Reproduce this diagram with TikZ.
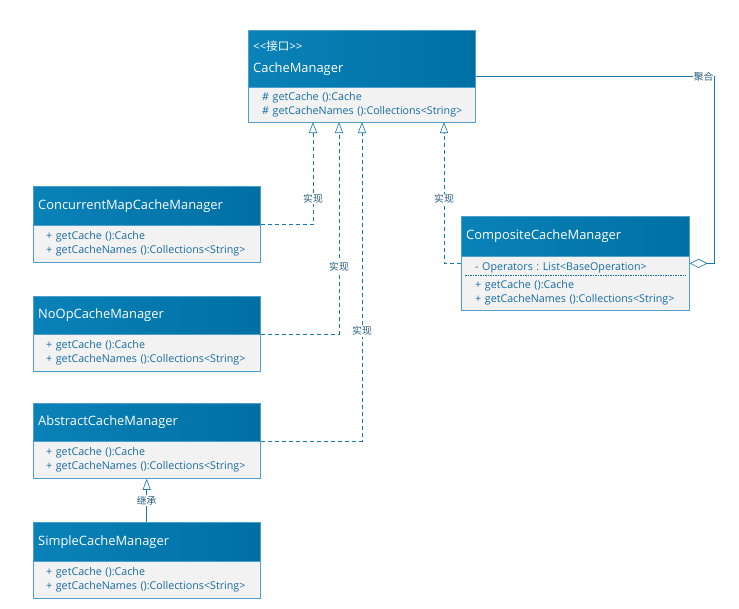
\documentclass[tikz,border=0pt]{standalone}
\usepackage{fontspec}
\setmainfont{Open Sans}
\newfontfamily\cjk{Noto Sans CJK SC}
\usepackage{tikz}
\usetikzlibrary{arrows.meta,fit,calc}
\definecolor{headlight}{RGB}{10,130,184}
\definecolor{headdark}{RGB}{0,112,164}
\definecolor{bodygray}{RGB}{242,242,242}
\definecolor{edgeblue}{RGB}{80,158,204}
\definecolor{textblue}{RGB}{22,108,160}
\definecolor{lineblue}{RGB}{24,122,172}
\definecolor{tagblue}{RGB}{40,92,124}
\frenchspacing

\begin{document}
\begin{tikzpicture}[x=1pt,y=-1pt,
  every node/.style={font=\fontsize{10.7}{14}\selectfont},
  head/.style={draw=edgeblue,left color=headlight,right color=headdark,text=white,
    anchor=north west,minimum width=227pt,minimum height=39pt,inner xsep=5pt,
    text width=217pt,align=left,font=\fontsize{12.9}{15}\selectfont},
  body/.style={draw=edgeblue,fill=bodygray,text=textblue,anchor=north west,
    minimum width=227pt,minimum height=37pt,inner xsep=13pt,text width=201pt,align=left},
  whole/.style={inner sep=0pt},
  realize/.style={lineblue,semithick,dash pattern=on 4pt off 3pt,
    -{Triangle[open,length=11pt,width=8pt,fill=white]}},
  inherit/.style={lineblue,semithick,-{Triangle[open,length=11pt,width=8pt,fill=white]}},
  aggr/.style={lineblue,semithick,-{Diamond[open,length=18pt,width=9pt,fill=white]}},
  tag/.style={fill=white,text=tagblue,inner sep=1pt,font=\cjk\fontsize{9.8}{11}\selectfont}]
  \fill[white] (0,0) rectangle (739,608);
  \useasboundingbox (0,0) rectangle (739,608);

  % interface
  \node[head,minimum height=57pt] (cmgr) at (248,30)
    {{\fontsize{11.5}{13}\selectfont <{}<{\cjk 接口}>{}>}\\[7pt]CacheManager};
  \node[body,minimum height=35pt,inner xsep=14pt,text width=199pt] (cmgr-b) at (cmgr.south west)
    {\# getCache ():Cache\\\mbox{\# getCacheNames ():Collections<String>}};
  \node[whole,fit=(cmgr)(cmgr-b)] (cmgr-all) {};

  % implementations
  \node[head] (cmap) at (33,186) {ConcurrentMapCacheManager};
  \node[body] (cmap-b) at (cmap.south west)
    {+ getCache ():Cache\\+ getCacheNames ():Collections<String>};
  \node[whole,fit=(cmap)(cmap-b)] (cmap-all) {};

  \node[head,minimum height=38pt] (noop) at (33,296) {NoOpCacheManager};
  \node[body] (noop-b) at (noop.south west)
    {+ getCache ():Cache\\+ getCacheNames ():Collections<String>};
  \node[whole,fit=(noop)(noop-b)] (noop-all) {};

  \node[head,minimum height=38pt] (abs) at (33,403) {AbstractCacheManager};
  \node[body] (abs-b) at (abs.south west)
    {+ getCache ():Cache\\+ getCacheNames ():Collections<String>};
  \node[whole,fit=(abs)(abs-b)] (abs-all) {};

  \node[head] (simple) at (33,522) {SimpleCacheManager};
  \node[body] (simple-b) at (simple.south west)
    {+ getCache ():Cache\\+ getCacheNames ():Collections<String>};

  \node[head,minimum height=40pt,minimum width=228pt,text width=218pt] (comp) at (461,216)
    {CompositeCacheManager};
  \node[body,minimum height=54pt,minimum width=228pt,inner xsep=14pt,text width=200pt]
    (comp-b) at (comp.south west)
    {- Operators : List<BaseOperation>\\[4pt]+ getCache ():Cache\\+ getCacheNames ():Collections<String>};
  \draw[textblue,dash pattern=on 1.5pt off 1pt]
    ($(comp-b.north west)+(4,19)$) -- ($(comp-b.north east)+(-3,19)$);
  \node[whole,fit=(comp)(comp-b)] (comp-all) {};

  % arrow tips on the interface
  \coordinate (tip1) at (313,122);
  \coordinate (tip2) at (339,122);
  \coordinate (tip3) at (362,122);
  \coordinate (tip4) at (444,122);

  \draw[realize] (cmap-all.east) -| node[tag,pos=0.627]{实现} (tip1);
  \draw[realize] (noop-all.east) -| node[tag,pos=0.659]{实现} (tip2);
  \draw[realize] (abs-all.east) -| node[tag,pos=0.672]{实现} (tip3);
  \draw[realize] (comp-all.west) -| node[tag,pos=0.727]{实现} (tip4);
  \draw[inherit] (simple.north) -- node[tag]{继承} (abs-b.south);
  \draw[aggr] (cmgr-all.east) -- node[tag,pos=0.954]{聚合} ++(239,0) |- (comp-all.east);
\end{tikzpicture}
\end{document}
